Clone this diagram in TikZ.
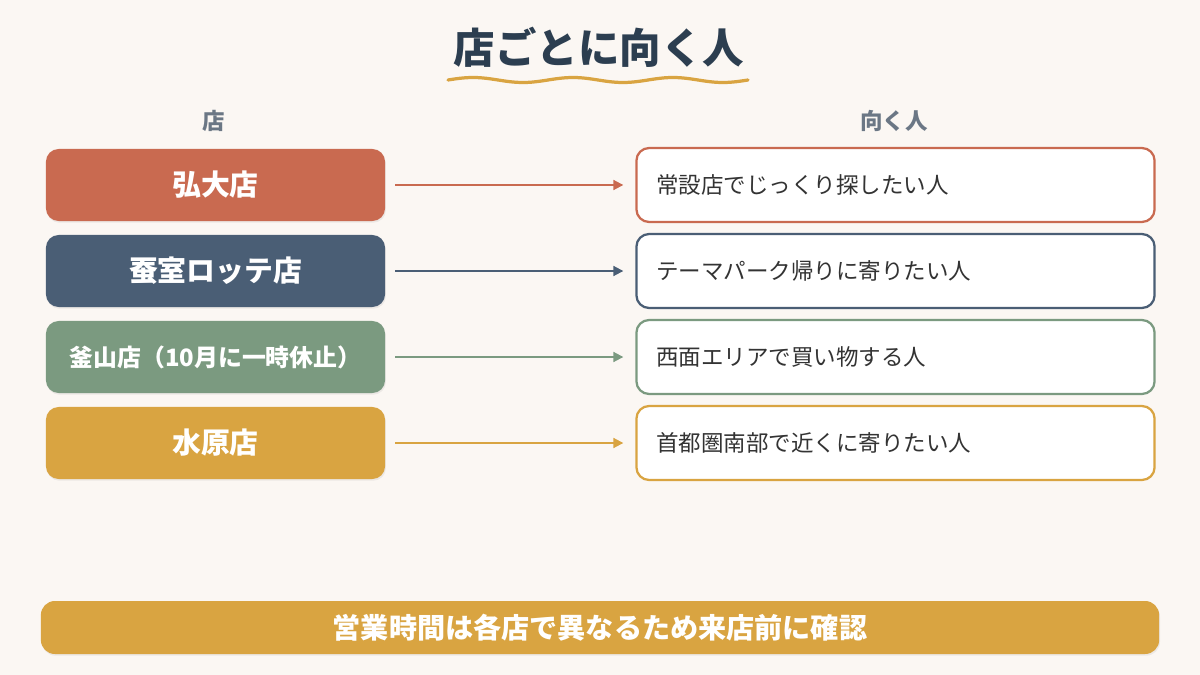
\documentclass[tikz,border=0pt]{standalone}
\usepackage{fontspec}
\setmainfont{Noto Sans CJK JP}
\usepackage{tikz}
\usetikzlibrary{arrows.meta,shadows}

\definecolor{bgcol}{HTML}{FBF7F3}
\definecolor{inkcol}{HTML}{2C3E50}
\definecolor{headcol}{HTML}{6B7785}
\definecolor{hongcol}{HTML}{C96A50}
\definecolor{jamcol}{HTML}{4A5E75}
\definecolor{busancol}{HTML}{7B9A80}
\definecolor{suwoncol}{HTML}{D9A441}
\definecolor{textcol}{HTML}{333333}

\tikzset{
  shopbox/.style={rounded corners=9pt, fill=#1, text=white, font=\bfseries\fontsize{20.5}{24}\selectfont,
    minimum width=8.475cm, minimum height=1.8cm, inner sep=0pt,
    drop shadow={opacity=0.12, shadow xshift=0.6pt, shadow yshift=-1.2pt}},
  whobox/.style={rounded corners=9pt, draw=#1, line width=1.6pt, fill=white, text=textcol,
    font=\fontsize{16}{20}\selectfont, minimum height=1.85cm, text width=11.95cm,
    align=left, inner xsep=0.5cm, inner ysep=0pt},
  linkarrow/.style={draw=#1, line width=1.3pt, -{Triangle[length=7pt,width=7pt]},
    shorten <=0.25cm, shorten >=0.3cm}
}

\begin{document}
\begin{tikzpicture}[x=0.025cm, y=-0.025cm]
  \fill[bgcol] (0,0) rectangle (1200,675);
  \useasboundingbox (0,0) rectangle (1200,675);

  % title with wavy underline
  \node[text=inkcol, font=\bfseries\fontsize{29.5}{36}\selectfont] (title) at (599,47) {店ごとに向く人};
  \draw[suwoncol, line width=2.3pt, line cap=round]
    plot[domain=448:748, samples=80] (\x, {80-2.5*sin((\x-448)*3.6)});

  % column heads
  \node[text=headcol, font=\bfseries\fontsize{16}{20}\selectfont] (shophead) at (214,121) {店};
  \node[text=headcol, font=\bfseries\fontsize{16}{20}\selectfont] (whohead) at (894,121) {向く人};

  % shops
  \node[shopbox=hongcol] (hongdae) at (215.5,185) {弘大店};
  \node[shopbox=jamcol] (jamsil) at (215.5,271) {蚕室ロッテ店};
  \node[shopbox=busancol, font=\bfseries\fontsize{17}{20}\selectfont] (busan) at (215.5,357) {釜山店（10月に一時休止）};
  \node[shopbox=suwoncol] (suwon) at (215.5,443) {水原店};

  % who should go
  \node[whobox=hongcol] (hongdaewho) at (895.5,185) {常設店でじっくり探したい人};
  \node[whobox=jamcol] (jamsilwho) at (895.5,271) {テーマパーク帰りに寄りたい人};
  \node[whobox=busancol] (busanwho) at (895.5,357) {西面エリアで買い物する人};
  \node[whobox=suwoncol] (suwonwho) at (895.5,443) {首都圏南部で近くに寄りたい人};

  \draw[linkarrow=hongcol] (hongdae) -- (hongdaewho);
  \draw[linkarrow=jamcol] (jamsil) -- (jamsilwho);
  \draw[linkarrow=busancol] (busan) -- (busanwho);
  \draw[linkarrow=suwoncol] (suwon) -- (suwonwho);

  % note bar
  \node[rounded corners=10pt, fill=suwoncol, text=white, font=\bfseries\fontsize{20}{24}\selectfont,
    minimum width=27.95cm, minimum height=1.325cm, inner sep=0pt,
    drop shadow={opacity=0.12, shadow xshift=0.6pt, shadow yshift=-1.2pt}]
    (note) at (600,627.5) {営業時間は各店で異なるため来店前に確認};
\end{tikzpicture}
\end{document}
